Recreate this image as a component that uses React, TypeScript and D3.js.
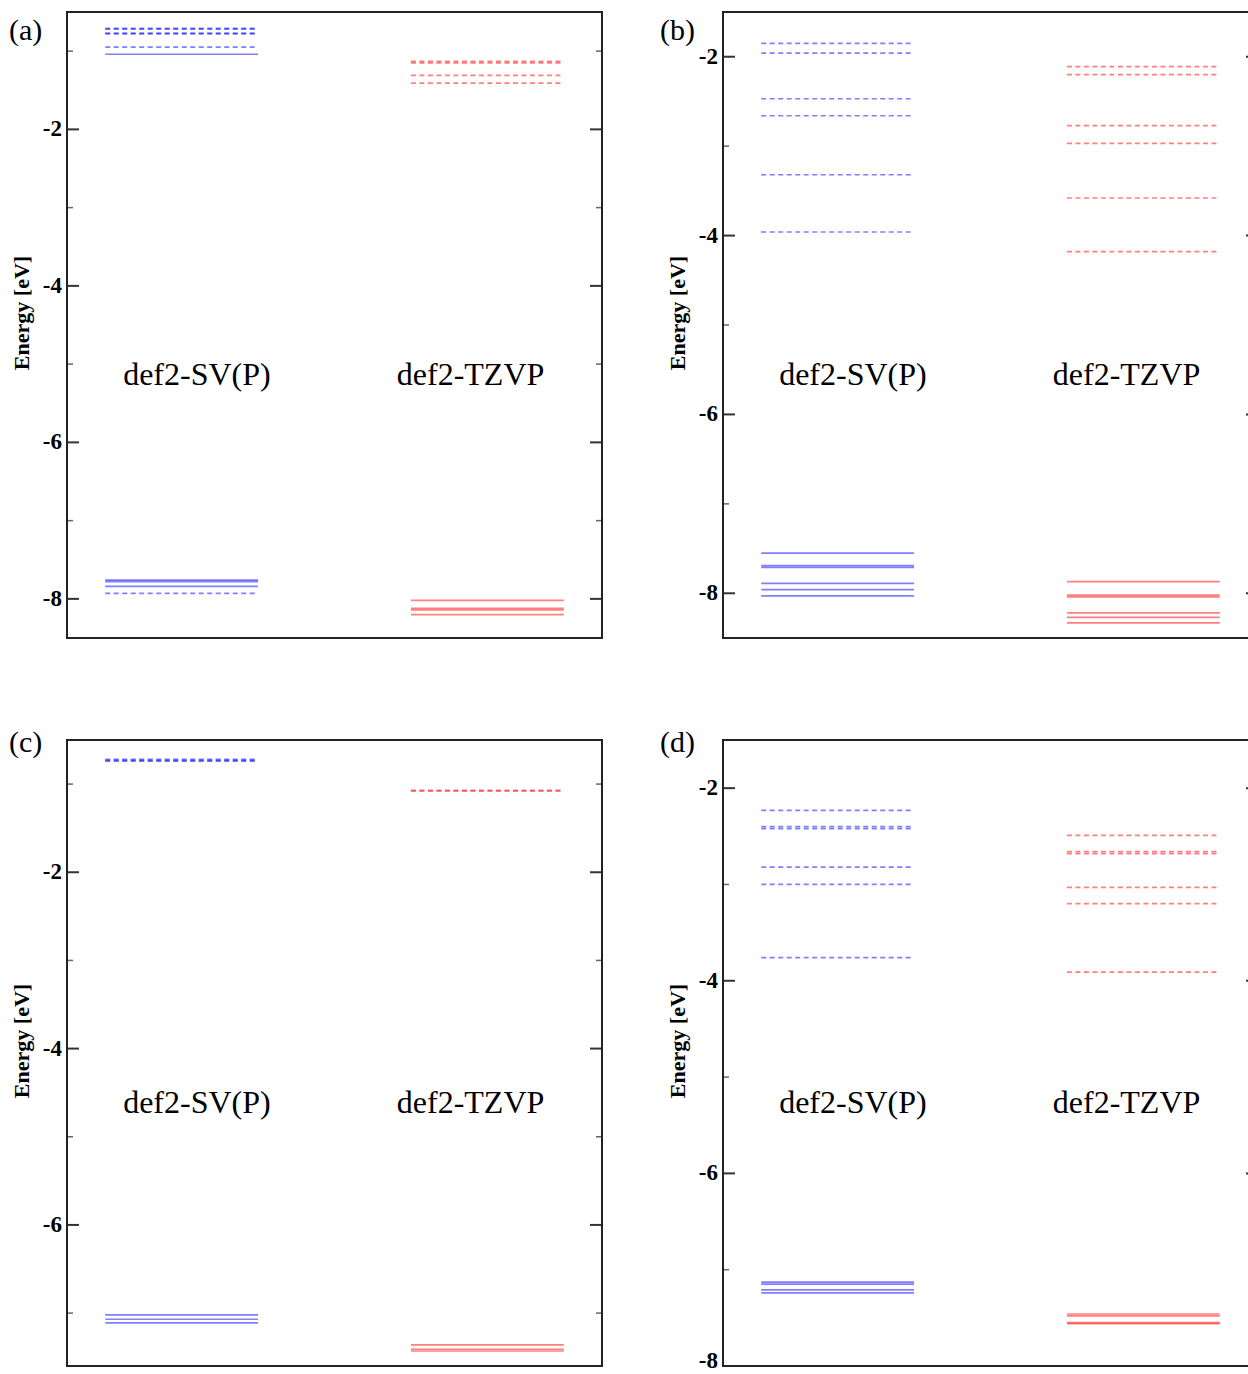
import React, { useEffect, useRef } from 'react';
import * as d3 from 'd3';

// Energy levels (eV)
const aSvpSolid = [-1.04, -7.76, -7.78, -7.84];
const aSvpDashed = [-0.71, -0.72, -0.77, -0.78, -0.95, -7.93];
const aTzvpSolid = [-8.02, -8.12, -8.14, -8.2];
const aTzvpDashed = [-1.13, -1.15, -1.31, -1.41];

const bSvpSolid = [-7.55, -7.69, -7.71, -7.89, -7.96, -8.03];
const bSvpDashed = [-1.85, -1.96, -2.47, -2.66, -3.32, -3.96];
const bTzvpSolid = [-7.87, -8.02, -8.04, -8.22, -8.27, -8.33];
const bTzvpDashed = [-2.11, -2.2, -2.77, -2.97, -3.58, -4.18];

const cSvpSolid = [-7.02, -7.07, -7.11];
const cSvpDashed = [-0.72, -0.73, -0.74];
const cTzvpSolid = [-7.36, -7.41, -7.43];
const cTzvpDashed = [-1.07, -1.08];

const dSvpSolid = [-7.13, -7.15, -7.21, -7.24];
const dSvpDashed = [-2.23, -2.4, -2.42, -2.82, -3.0, -3.76];
const dTzvpSolid = [-7.46, -7.48, -7.55, -7.56];
const dTzvpDashed = [-2.49, -2.66, -2.68, -3.03, -3.2, -3.91];

const basisLabels = ['def2-SV(P)', 'def2-TZVP'];
const majorTicks = [-2, -4, -6, -8];
const minorTicks = [-1, -3, -5, -7];

const panels = [
  { tag: '(a)', tagX: 9, tagY: 40, left: 67, top: 12, domain: [-8.5, -0.5], svp: [aSvpSolid, aSvpDashed], tzvp: [aTzvpSolid, aTzvpDashed] },
  { tag: '(b)', tagX: 660, tagY: 40, left: 723, top: 12, domain: [-8.5, -1.5], svp: [bSvpSolid, bSvpDashed], tzvp: [bTzvpSolid, bTzvpDashed] },
  { tag: '(c)', tagX: 9, tagY: 752, left: 67, top: 740, domain: [-7.6, -0.5], svp: [cSvpSolid, cSvpDashed], tzvp: [cTzvpSolid, cTzvpDashed] },
  { tag: '(d)', tagX: 660, tagY: 752, left: 723, top: 740, domain: [-8, -1.5], svp: [dSvpSolid, dSvpDashed], tzvp: [dTzvpSolid, dTzvpDashed] },
];

const W = 535;
const H = 626;
const PAGE_H = 1374;
const serif = '"Liberation Serif", "Times New Roman", serif';

const App = () => {
  const svgRef = useRef<SVGSVGElement>(null);

  useEffect(() => {
    const svg = d3.select(svgRef.current);
    svg.selectAll('*').remove();

    const x = d3.scaleLinear().domain([0, 3.5]).range([0, W]);
    const spans = [[0.25, 1.25], [2.25, 3.25]];

    panels.forEach(p => {
      const y = d3.scaleLinear().domain([p.domain[1], p.domain[0]]).range([0, H]);
      const g = svg.append('g').attr('transform', `translate(${p.left},${p.top})`);

      // levels: solid = first set, dashed = second set
      const groups = [
        { sets: p.svp, color: '#0000ff', span: spans[0] },
        { sets: p.tzvp, color: '#ff0000', span: spans[1] },
      ];
      groups.forEach(grp => {
        grp.sets.forEach((vals, k) => {
          g.selectAll(null)
            .data(vals)
            .enter()
            .append('line')
            .attr('x1', x(grp.span[0]))
            .attr('x2', x(grp.span[1]))
            .attr('y1', d => y(d))
            .attr('y2', d => y(d))
            .attr('stroke', grp.color)
            .attr('stroke-opacity', 0.5)
            .attr('stroke-width', 1.7)
            .attr('stroke-dasharray', k === 1 ? '5,3.5' : null);
        });
      });

      // ticks on both sides, pointing in
      majorTicks.filter(t => t >= p.domain[0] && t <= p.domain[1]).forEach(t => {
        g.append('line').attr('x1', 0).attr('x2', 12).attr('y1', y(t)).attr('y2', y(t))
          .attr('stroke', '#333').attr('stroke-width', 2);
        g.append('line').attr('x1', W - 12).attr('x2', W).attr('y1', y(t)).attr('y2', y(t))
          .attr('stroke', '#333').attr('stroke-width', 2);
        // keep the lowest label inside the page
        const ty = Math.min(y(t) + 7, PAGE_H - p.top - 6);
        g.append('text')
          .attr('x', -5)
          .attr('y', ty)
          .attr('text-anchor', 'end')
          .attr('font-family', serif)
          .attr('font-weight', 'bold')
          .attr('font-size', 23)
          .text(t);
      });
      minorTicks.filter(t => t >= p.domain[0] && t <= p.domain[1]).forEach(t => {
        g.append('line').attr('x1', 0).attr('x2', 6).attr('y1', y(t)).attr('y2', y(t))
          .attr('stroke', '#666').attr('stroke-width', 1.5);
        g.append('line').attr('x1', W - 6).attr('x2', W).attr('y1', y(t)).attr('y2', y(t))
          .attr('stroke', '#666').attr('stroke-width', 1.5);
      });

      // frame
      g.append('rect')
        .attr('width', W)
        .attr('height', H)
        .attr('fill', 'none')
        .attr('stroke', '#222')
        .attr('stroke-width', 2);

      // basis set labels
      basisLabels.forEach((lab, i) => {
        g.append('text')
          .attr('x', x(i === 0 ? 0.85 : 2.64))
          .attr('y', 373)
          .attr('text-anchor', 'middle')
          .attr('font-family', serif)
          .attr('font-size', 32)
          .text(lab);
      });

      // y axis title
      g.append('text')
        .attr('transform', `translate(-38,${H / 2 - 12}) rotate(-90)`)
        .attr('text-anchor', 'middle')
        .attr('font-family', serif)
        .attr('font-weight', 'bold')
        .attr('font-size', 22)
        .text('Energy [eV]');

      // panel tag
      svg.append('text')
        .attr('x', p.tagX)
        .attr('y', p.tagY)
        .attr('font-family', serif)
        .attr('font-size', 30)
        .text(p.tag);
    });
  }, []);

  return (
    <svg
      ref={svgRef}
      width={1248}
      height={PAGE_H}
      style={{ position: 'absolute', left: 0, top: 0, background: '#fff' }}
    />
  );
};

export default App;
